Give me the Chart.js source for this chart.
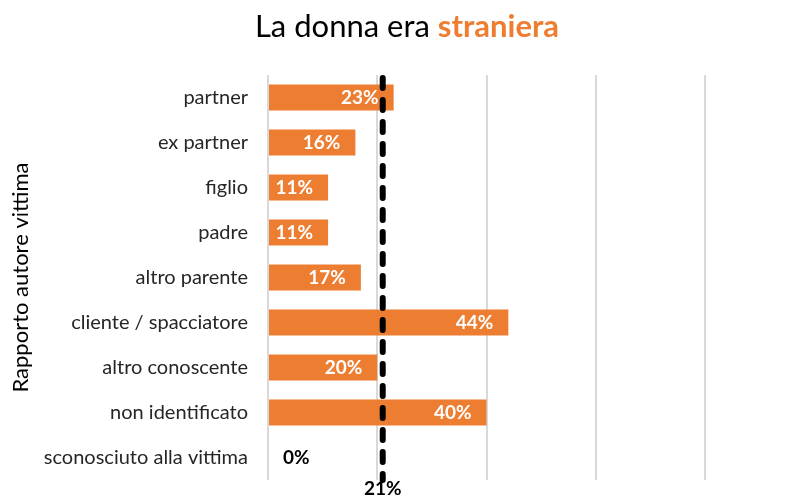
<!DOCTYPE html>
<html>
<head>
<meta charset="utf-8">
<script src="https://cdn.jsdelivr.net/npm/chart.js@4"></script>
<style>
  body { margin: 0; background: #fff; }
  canvas { display: block; }
</style>
</head>
<body>
<canvas id="chart" width="802" height="497"></canvas>
<script>
const categories = ["partner", "ex partner", "figlio", "padre", "altro parente",
  "cliente / spacciatore", "altro conoscente", "non identificato", "sconosciuto alla vittima"];
const shares = [23, 16, 11, 11, 17, 44, 20, 40, 0];
const average = 21;
const xTicks = [0, 20, 40, 60, 80];

const FONT = "Lato";
const ORANGE = "#ED7D31";

// title with the orange bold word
const titlePlugin = {
  id: "titleMix",
  afterDraw(chart) {
    const ctx = chart.ctx;
    ctx.save();
    ctx.textBaseline = "middle";
    const a = "La donna era ", b = "straniera";
    ctx.font = "31px " + FONT;
    const wa = ctx.measureText(a).width;
    ctx.font = "bold 31px " + FONT;
    const wb = ctx.measureText(b).width;
    let x = 407 - (wa + wb) / 2;
    ctx.font = "31px " + FONT;
    ctx.fillStyle = "#000";
    ctx.textAlign = "left";
    ctx.fillText(a, x, 27);
    ctx.font = "bold 31px " + FONT;
    ctx.fillStyle = ORANGE;
    ctx.fillText(b, x + wa, 27);
    ctx.restore();
  }
};

// value labels + average line
const marksPlugin = {
  id: "marks",
  afterDatasetsDraw(chart) {
    const ctx = chart.ctx;
    const xs = chart.scales.x;
    const area = chart.chartArea;
    const meta = chart.getDatasetMeta(0);
    ctx.save();
    ctx.font = "bold 19px " + FONT;
    ctx.textBaseline = "middle";
    meta.data.forEach((bar, i) => {
      const v = shares[i];
      if (v > 0) {
        ctx.fillStyle = "#fff";
        ctx.textAlign = "right";
        ctx.fillText(v + "%", bar.x - 15, bar.y);
      } else {
        ctx.fillStyle = "#000";
        ctx.textAlign = "left";
        ctx.fillText(v + "%", xs.getPixelForValue(0) + 15, bar.y);
      }
    });
    const ax = xs.getPixelForValue(average);
    ctx.strokeStyle = "#000";
    ctx.lineWidth = 6;
    ctx.lineCap = "round";
    ctx.setLineDash([10, 12]);
    ctx.beginPath();
    ctx.moveTo(ax, area.top + 3);
    ctx.lineTo(ax, area.bottom);
    ctx.stroke();
    ctx.setLineDash([]);
    ctx.fillStyle = "#000";
    ctx.textAlign = "center";
    ctx.fillText(average + "%", ax, area.bottom + 9);
    ctx.restore();
  }
};

new Chart(document.getElementById("chart"), {
  type: "bar",
  data: {
    labels: categories,
    datasets: [{
      data: shares,
      backgroundColor: ORANGE,
      categoryPercentage: 1,
      barPercentage: 0.58
    }]
  },
  options: {
    indexAxis: "y",
    responsive: false,
    animation: false,
    layout: { padding: { top: 75, right: 97, left: 0, bottom: 0 } },
    plugins: { legend: { display: false }, tooltip: { enabled: false } },
    scales: {
      x: {
        min: xTicks[0],
        max: xTicks[xTicks.length - 1],
        afterBuildTicks: (s) => { s.ticks = xTicks.map(v => ({ value: v })); },
        ticks: { display: false },
        grid: { color: "#d9d9d9", lineWidth: 2, drawTicks: false },
        border: { display: false },
        afterFit: (s) => { s.height = 17; }
      },
      y: {
        grid: { display: false },
        border: { display: false },
        ticks: { color: "#262626", font: { family: FONT, size: 20 }, padding: 12 },
        title: {
          display: true,
          text: "Rapporto autore vittima",
          color: "#000",
          font: { family: FONT, size: 22 },
          padding: { top: 8, bottom: 0 }
        },
        afterFit: (s) => { s.width = 268; s.paddingTop = 0; s.paddingBottom = 0; }
      }
    }
  },
  plugins: [titlePlugin, marksPlugin]
});
</script>
</body>
</html>
